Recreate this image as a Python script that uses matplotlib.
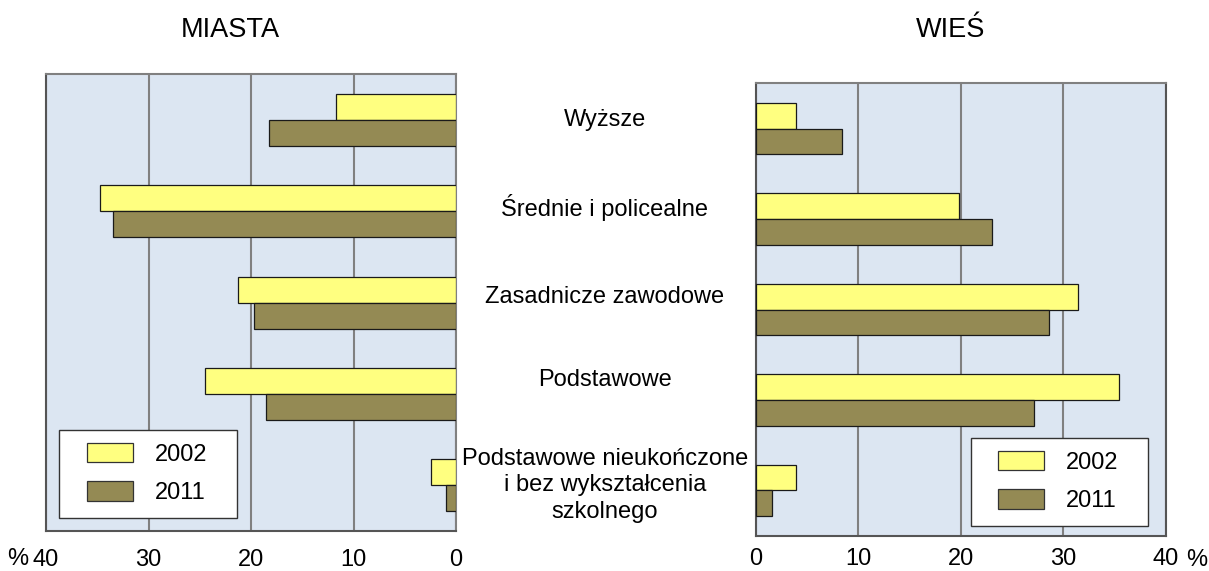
import matplotlib.pyplot as plt
import matplotlib.transforms as mtransforms
from matplotlib.patches import Patch, Rectangle

plt.rcParams["font.family"] = ["Liberation Sans", "DejaVu Sans"]

categories = [
    "Wyższe",
    "Średnie i policealne",
    "Zasadnicze zawodowe",
    "Podstawowe",
    "Podstawowe nieukończone\ni bez wykształcenia\nszkolnego",
]
miasta_2002 = [11.7, 34.7, 21.3, 24.5, 2.4]
miasta_2011 = [18.2, 33.5, 19.7, 18.5, 1.0]
wies_2002 = [3.9, 19.8, 31.4, 35.4, 3.9]
wies_2011 = [8.4, 23.0, 28.6, 27.1, 1.6]
ticks = [0, 10, 20, 30, 40]
years = ["2002", "2011"]

C2002 = "#FFFF80"
C2011 = "#948A54"
BG = "#DCE6F2"
FS = 17

W, H = 1209, 571
fig = plt.figure(figsize=(W / 100, H / 100), dpi=100)


def px(x0, y0, x1, y1):
    return [x0 / W, 1 - y1 / H, (x1 - x0) / W, (y1 - y0) / H]


ax_l = fig.add_axes(px(46, 74.3, 456, 531))
ax_r = fig.add_axes(px(755.7, 83.3, 1166, 535.7))

n = len(categories)
ypos = [n - 1 - i for i in range(n)]
h = 0.285


def draw(ax, v02, v11, pad):
    ax.set_facecolor(BG)
    ax.barh([y + h / 2 for y in ypos], v02, height=h, color=C2002,
            edgecolor="#1a1a1a", linewidth=0.9, zorder=3)
    ax.barh([y - h / 2 for y in ypos], v11, height=h, color=C2011,
            edgecolor="#1a1a1a", linewidth=0.9, zorder=3)
    ax.set_ylim(-0.5, n - 0.5)
    ax.set_yticks([])
    ax.set_xticks(ticks)
    ax.set_xticklabels([str(t) for t in ticks], fontsize=FS)
    ax.tick_params(axis="x", length=0, pad=pad)
    ax.grid(axis="x", color="#808080", linewidth=1.5, zorder=1)
    for s in ax.spines.values():
        s.set_color("#555555")
        s.set_linewidth(1.5)
    ax.spines["top"].set_color("#808080")


def legend_box(ax, box, anchor):
    # white frame drawn separately, legend entries placed inside it
    x0, y0, x1, y1 = box
    ax.add_patch(Rectangle((x0 / W, 1 - y1 / H), (x1 - x0) / W, (y1 - y0) / H,
                           transform=fig.transFigure, facecolor="white",
                           edgecolor="#333333", linewidth=1.0, zorder=5,
                           clip_on=False))
    leg = ax.legend(
        [Patch(facecolor=C2002, edgecolor="#333333", linewidth=0.9),
         Patch(facecolor=C2011, edgecolor="#333333", linewidth=0.9)],
        years, fontsize=FS, handlelength=1.95, handleheight=0.92,
        handletextpad=0.93, labelspacing=0.66, borderpad=0,
        borderaxespad=0, frameon=False, loc="upper left",
        bbox_to_anchor=(anchor[0] / W, 1 - anchor[1] / H),
        bbox_transform=fig.transFigure,
    )
    leg.set_zorder(6)


draw(ax_l, miasta_2002, miasta_2011, 13)
ax_l.set_xlim(40, 0)
ax_l.spines["right"].set_color("#808080")
legend_box(ax_l, (59, 430, 237, 518), (86.5, 442.5))

draw(ax_r, wies_2002, wies_2011, 9)
ax_r.set_xlim(0, 40)
legend_box(ax_r, (971, 438, 1148, 526), (998.3, 450.5))

fig.text(230 / W, 1 - 30 / H, "MIASTA", fontsize=19.5, ha="center", va="center")
fig.text(951 / W, 1 - 30 / H, "WIEŚ", fontsize=19.5, ha="center", va="center")
fig.text(28 / W, 1 - 559 / H, "%", fontsize=FS, ha="right", va="center")
fig.text(1186 / W, 1 - 560 / H, "%", fontsize=FS, ha="left", va="center")

# category labels between the two panels
trans = mtransforms.blended_transform_factory(fig.transFigure, ax_l.transData)
label_offset = [0.005, 0.045, 0.065, 0.15, 0.0]
for y, cat, off in zip(ypos, categories, label_offset):
    fig.text(605 / W, y + off, cat, fontsize=FS, ha="center", va="center",
             transform=trans, linespacing=1.28)

fig.savefig("out.png", dpi=100)
